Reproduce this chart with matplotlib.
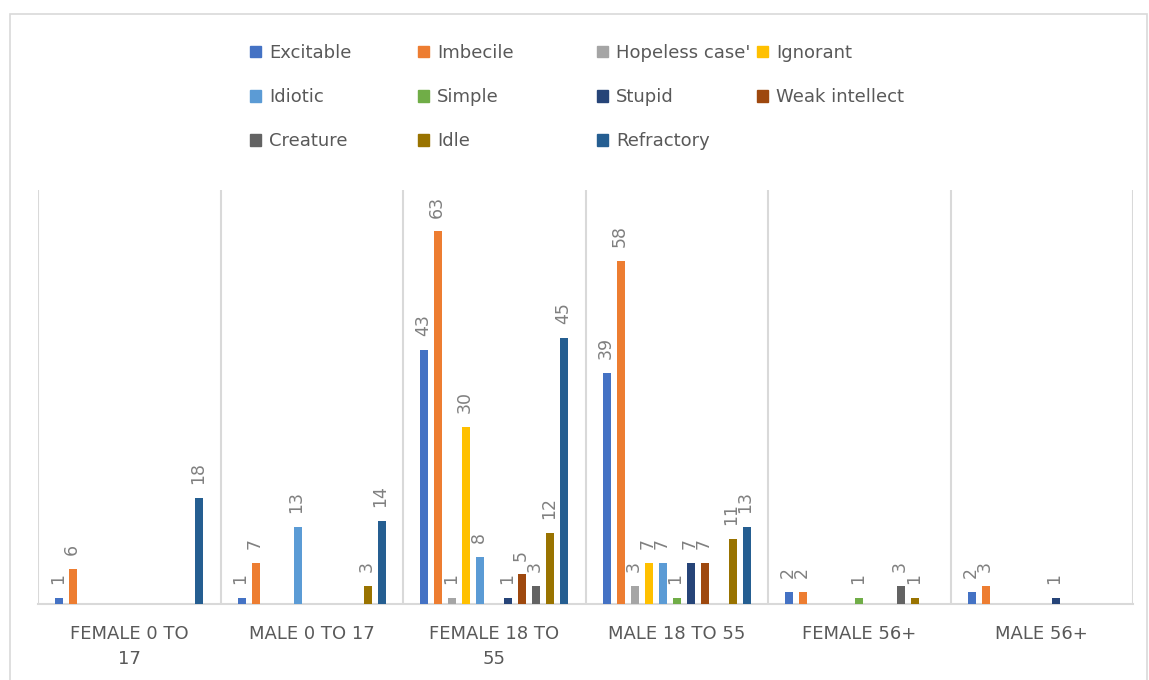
import matplotlib
matplotlib.use("Agg")
import matplotlib.pyplot as plt
from matplotlib.patches import Rectangle, Patch
import numpy as np

categories = ["FEMALE 0 TO\n17", "MALE 0 TO 17", "FEMALE 18 TO\n55",
              "MALE 18 TO 55", "FEMALE 56+", "MALE 56+"]
series = ["Excitable", "Imbecile", "Hopeless case'", "Ignorant", "Idiotic",
          "Simple", "Stupid", "Weak intellect", "Creature", "Idle", "Refractory"]
nan = np.nan
excitable = [1, 1, 43, 39, 2, 2]
imbecile = [6, 7, 63, 58, 2, 3]
hopeless = [nan, nan, 1, 3, nan, nan]
ignorant = [nan, nan, 30, 7, nan, nan]
idiotic = [nan, 13, 8, 7, nan, nan]
simple = [nan, nan, nan, 1, 1, nan]
stupid = [nan, nan, 1, 7, nan, 1]
weak_intellect = [nan, nan, 5, 7, nan, nan]
creature = [nan, nan, 3, nan, 3, nan]
idle = [nan, 3, 12, 11, 1, nan]
refractory = [18, 14, 45, 13, nan, nan]
values = [excitable, imbecile, hopeless, ignorant, idiotic, simple, stupid,
          weak_intellect, creature, idle, refractory]
colors = ["#4472C4", "#ED7D31", "#A5A5A5", "#FFC000", "#5B9BD5", "#70AD47",
          "#264478", "#9E480E", "#636363", "#997300", "#255E91"]

fig = plt.figure(figsize=(11.49, 6.8), dpi=100)
W, H = 1149, 680
ax = fig.add_axes([38 / W, 1 - 604 / H, (1133 - 38) / W, (604 - 190) / H])

slot = 14 / 182.5
bw = 8 / 182.5
x = np.arange(len(categories))
for j, (name, vals, c) in enumerate(zip(series, values, colors)):
    pos = x + (j - 5) * slot
    v = np.array(vals, dtype=float)
    ax.bar(pos, np.nan_to_num(v), width=bw, color=c, label=name, zorder=3)
    for p, val in zip(pos, v):
        if not np.isnan(val):
            ax.annotate(f"{int(val)}", (p, val), xytext=(-1, 10),
                        textcoords="offset points", rotation=90,
                        ha="center", va="bottom", fontsize=12.5,
                        color="#808080")

ax.set_xlim(-0.5, len(categories) - 0.5)
ax.set_ylim(0, 70)
ax.set_yticks([])
ax.set_xticks([])
for b in np.arange(-0.5, len(categories), 1.0):
    ax.axvline(b, color="#D9D9D9", lw=1.5, zorder=1)
for s in ["top", "left", "right"]:
    ax.spines[s].set_visible(False)
ax.spines["bottom"].set_color("#D9D9D9")
ax.spines["bottom"].set_linewidth(1.5)

for i, cat in enumerate(categories):
    ax.text(i, -0.05, cat, transform=ax.get_xaxis_transform(), ha="center",
            va="top", fontsize=13, color="#595959", linespacing=1.55)

# legend in 4 columns
col_x = [250, 418, 597, 757]
cols = [[0, 4, 8], [1, 5, 9], [2, 6, 10], [3, 7]]
for cx, idxs in zip(col_x, cols):
    handles = [Patch(color=colors[k], label=series[k]) for k in idxs]
    leg = fig.legend(handles=handles, loc="upper left",
                     bbox_to_anchor=(cx / W, 1 - 44 / H), ncol=1,
                     frameon=False, fontsize=13, handlelength=0.6,
                     handleheight=0.6, handletextpad=0.45, labelspacing=1.45,
                     borderaxespad=0, borderpad=0)
    for t in leg.get_texts():
        t.set_color("#595959")

fig.patches.append(Rectangle((10 / W, -0.01), (1147 - 10) / W, 1 - 14 / H + 0.01,
                             transform=fig.transFigure, fill=False,
                             edgecolor="#D9D9D9", lw=1.2))

fig.savefig("out.png", dpi=100)
